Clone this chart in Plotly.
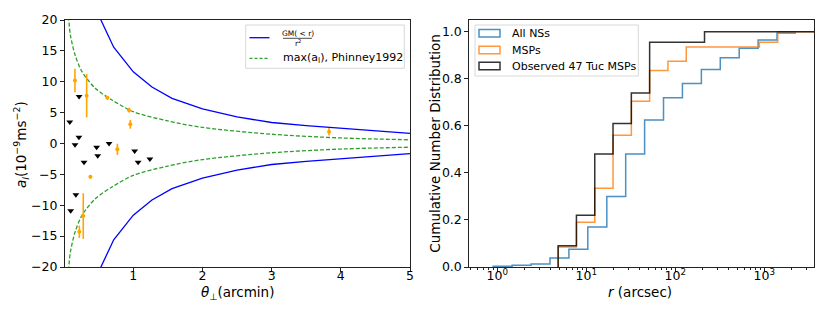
import plotly.graph_objects as go

# ---------------- Left panel data ----------------
gm_x = [0.45, 0.717, 1.0, 1.27, 1.56, 2.0, 2.5, 3.0, 3.5, 4.0, 4.5, 5.0]
gm_y = [21.95, 15.6, 11.6, 9.15, 7.3, 5.6, 4.3, 3.4, 2.9, 2.45, 2.0, 1.65]

phin_x = [0.055, 0.066, 0.09, 0.16, 0.26, 0.45, 0.69, 1.0, 1.48, 2.0, 3.0, 4.0, 5.0]
phin_y = [21.5, 20.2, 17.6, 14.3, 11.6, 8.95, 7.05, 5.15, 3.7, 2.6, 1.5, 0.9, 0.6]

msp_x = [0.157, 0.326, 0.625, 0.94, 0.957, 3.83, 0.77, 0.38, 0.22, 0.277]
msp_y = [10.2, 7.75, 7.4, 5.4, 3.1, 1.9, -0.95, -5.4, -14.3, -11.75]
msp_err = [1.9, 3.5, 0.3, 0.4, 0.7, 0.6, 0.9, 0.3, 1.0, 3.7]

lim_x = [0.082, 0.217, 0.158, 0.214, 0.288, 0.47, 0.486, 0.65, 1.02, 1.07, 1.24, 0.17, 0.095]
lim_y = [3.5, 7.6, -0.2, 1.0, -3.05, -0.6, -2.0, 0.0, -1.2, -3.05, -2.5, -8.3, -10.9]

# ---------------- Right panel data ----------------
ns_edges = [0.90, 1.47, 2.40, 3.91, 6.38, 10.4, 17.0, 27.7, 45.2, 73.7, 120.2,
            196.1, 319.9, 521.9, 851.1, 1388, 2265]
ns_cum = [0.003, 0.007, 0.013, 0.038, 0.075, 0.17, 0.30, 0.48, 0.625, 0.72,
          0.78, 0.84, 0.89, 0.93, 0.965, 0.995]

msp_edges = [4.83, 7.75, 12.45, 19.97, 32.06, 51.46, 82.6, 132.6, 212.8, 341.6,
             548.3, 880.0, 1412.5, 2267, 3639]
msp_cum = [0.085, 0.19, 0.335, 0.56, 0.705, 0.835, 0.875, 0.935, 0.935, 0.935,
           0.935, 0.955, 1.0, 1.0]
obs_cum = [0.09, 0.22, 0.48, 0.61, 0.74, 0.955, 0.955, 0.955, 1.0, 1.0,
           1.0, 1.0, 1.0, 1.0]

FONT = "DejaVu Sans"
W, H = 830, 317


def px(x):
    return x / W


def py(y):
    return 1 - y / H


fig = go.Figure()

# Left panel curves
fig.add_trace(go.Scatter(x=gm_x, y=gm_y, mode="lines", line=dict(color="#0000ff", width=1.3),
                         xaxis="x", yaxis="y", showlegend=False))
fig.add_trace(go.Scatter(x=gm_x, y=[-v for v in gm_y], mode="lines",
                         line=dict(color="#0000ff", width=1.3),
                         xaxis="x", yaxis="y", showlegend=False))
fig.add_trace(go.Scatter(x=phin_x, y=phin_y, mode="lines",
                         line=dict(color="#2ca02c", width=1.3, dash="4px,2px", shape="spline", smoothing=0.8),
                         xaxis="x", yaxis="y", showlegend=False))
fig.add_trace(go.Scatter(x=phin_x, y=[-v for v in phin_y], mode="lines",
                         line=dict(color="#2ca02c", width=1.3, dash="4px,2px", shape="spline", smoothing=0.8),
                         xaxis="x", yaxis="y", showlegend=False))
fig.add_trace(go.Scatter(x=msp_x, y=msp_y, mode="markers",
                         marker=dict(color="orange", size=4),
                         error_y=dict(type="data", array=msp_err, color="orange", thickness=1.6, width=0),
                         xaxis="x", yaxis="y", showlegend=False))
fig.add_trace(go.Scatter(x=lim_x, y=lim_y, mode="markers",
                         marker=dict(color="black", size=6, symbol="triangle-down"),
                         xaxis="x", yaxis="y", showlegend=False))


def step_xy(edges, cum):
    xs = [edges[0]] + list(edges)
    ys = [0] + list(cum) + [cum[-1]]
    return xs, ys


for edges, cum, col in [(ns_edges, ns_cum, "#1f77b4"),
                        (msp_edges, msp_cum, "#ff7f0e"),
                        (msp_edges, obs_cum, "#000000")]:
    xs, ys = step_xy(edges, cum)
    fig.add_trace(go.Scatter(x=xs, y=ys, mode="lines", line=dict(color=col, width=1.5, shape="hv"),
                             opacity=0.8, xaxis="x2", yaxis="y2", showlegend=False))

ydom = [py(267), py(20)]
axcommon = dict(showline=True, mirror=True, linecolor="#222", linewidth=1, ticks="outside",
                ticklen=4, tickcolor="#222", showgrid=False, zeroline=False, automargin=False,
                tickfont=dict(family=FONT, size=12.5, color="black"))

minor_vals = []
for dec in [0.1, 1, 10, 100, 1000]:
    for m in range(2, 10):
        minor_vals.append(m * dec)

fig.update_layout(
    width=W, height=H, margin=dict(l=0, r=0, t=0, b=0, pad=0), autosize=False,
    paper_bgcolor="white", plot_bgcolor="white",
    font=dict(family=FONT, color="black"),
    xaxis=dict(domain=[px(65), px(410)], range=[0.013, 5], tickvals=[1, 2, 3, 4, 5], anchor="y",
               ticklabelstandoff=-7, **axcommon),
    yaxis=dict(domain=ydom, range=[-20, 20], tickvals=[-20, -15, -10, -5, 0, 5, 10, 15, 20], anchor="x", **axcommon),
    xaxis2=dict(domain=[px(469.3), px(814.3)], type="log", range=[-0.314, 3.561],
                tickvals=[1, 10, 100, 1000],
                ticktext=["10<sup>0</sup>", "10<sup>1</sup>", "10<sup>2</sup>", "10<sup>3</sup>"],
                minor=dict(tickvals=minor_vals, ticks="outside", ticklen=2, tickcolor="#222"),
                anchor="y2", ticklabelstandoff=-7, **axcommon),
    yaxis2=dict(domain=ydom, range=[0, 1.05], tickvals=[0, 0.2, 0.4, 0.6, 0.8, 1.0], tickformat=".1f",
                anchor="x2", **axcommon),
)

shapes = []
ann = []
TF = dict(family=FONT, size=13.5, color="black")
LF = dict(family=FONT, size=11, color="black")


def note(x, y, text, font, xanchor="center", angle=0):
    ann.append(dict(x=px(x), y=py(y), xref="paper", yref="paper", showarrow=False,
                    xanchor=xanchor, yanchor="middle", textangle=angle, text=text, font=font))


# Axis titles
note(237, 293, "<i>θ</i><sub>⊥</sub>(arcmin)", TF)
note(21, 145, "<i>a</i><sub><i>l</i></sub>(10<sup>−9</sup>ms<sup>−2</sup>)", TF, angle=-90)
note(640, 292, "<i>r</i> (arcsec)", TF)
note(435, 143.7, "Cumulative Number Distribution", TF, angle=-90)

# Left legend
shapes.append(dict(type="rect", xref="paper", yref="paper", x0=px(245.7), x1=px(404.3),
                   y0=py(68.3), y1=py(25), line=dict(color="#d8d8d8", width=1), fillcolor="rgba(255,255,255,0.85)"))
shapes.append(dict(type="line", xref="paper", yref="paper", x0=px(249.5), x1=px(269.5),
                   y0=py(37.7), y1=py(37.7), line=dict(color="#0000ff", width=1.3)))
shapes.append(dict(type="line", xref="paper", yref="paper", x0=px(283), x1=px(312),
                   y0=py(38.3), y1=py(38.3), line=dict(color="black", width=0.7)))
note(297.5, 33.5, "GM( < r)", dict(family=FONT, size=7.5, color="black"))
note(297.5, 42.5, "r<sup>2</sup>", dict(family=FONT, size=7.5, color="black"))
shapes.append(dict(type="line", xref="paper", yref="paper", x0=px(249.5), x1=px(269.5),
                   y0=py(58.3), y1=py(58.3), line=dict(color="#2ca02c", width=1.3, dash="3px,2px")))
note(280.5, 58.3, "max(a<sub>l</sub>), Phinney1992", LF, xanchor="left")

# Right legend
shapes.append(dict(type="rect", xref="paper", yref="paper", x0=px(475), x1=px(638.3),
                   y0=py(76), y1=py(25), line=dict(color="#d8d8d8", width=1), fillcolor="rgba(255,255,255,0.85)"))
for yc, col, lab in [(33.3, "#1f77b4", "All NSs"), (50, "#ff7f0e", "MSPs"),
                     (66, "#000000", "Observed 47 Tuc MSPs")]:
    shapes.append(dict(type="rect", xref="paper", yref="paper", x0=px(479), x1=px(500),
                       y0=py(yc + 3.7), y1=py(yc - 3.7), line=dict(color=col, width=1.5),
                       fillcolor="rgba(0,0,0,0)", opacity=0.8))
    note(509.5, yc, lab, LF, xanchor="left")

fig.update_layout(shapes=shapes, annotations=ann)
fig.write_html("out.html", config={"responsive": False, "displayModeBar": False},
               post_script="document.body.style.margin='0';document.body.style.overflow='hidden';")
